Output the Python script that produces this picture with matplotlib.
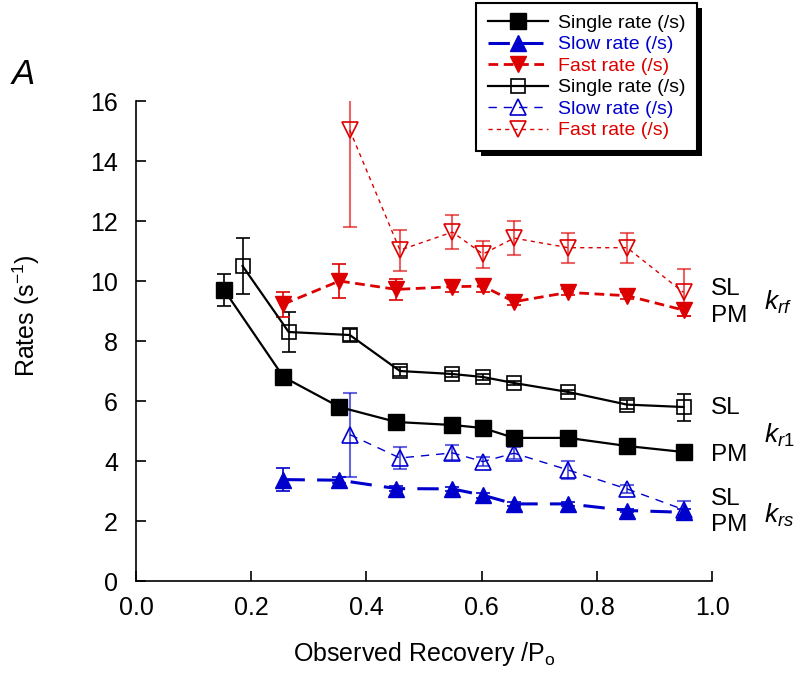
import matplotlib
matplotlib.use('Agg')
import matplotlib.pyplot as plt
from matplotlib.patches import Rectangle

plt.rcParams['font.family'] = ['Liberation Sans', 'DejaVu Sans']
plt.rcParams['mathtext.fontset'] = 'custom'
plt.rcParams['mathtext.rm'] = 'Liberation Sans'
plt.rcParams['mathtext.it'] = 'Liberation Sans:italic'

BLUE = '#0000cc'
RED = '#dd0000'

# PM (filled symbols)
pm_single_x = [0.153, 0.256, 0.353, 0.452, 0.549, 0.602, 0.656, 0.75, 0.852, 0.95]
pm_single_y = [9.7, 6.8, 5.8, 5.3, 5.2, 5.1, 4.77, 4.77, 4.5, 4.3]
pm_single_e = [0.52, 0.0, 0.0, 0.0, 0.0, 0.0, 0.0, 0.0, 0.0, 0.0]

pm_slow_x = [0.256, 0.353, 0.452, 0.549, 0.602, 0.656, 0.75, 0.852, 0.95]
pm_slow_y = [3.38, 3.36, 3.08, 3.07, 2.86, 2.57, 2.57, 2.35, 2.29]
pm_slow_e = [0.38, 0.1, 0.08, 0.08, 0.08, 0.06, 0.06, 0.06, 0.1]

pm_fast_x = [0.256, 0.353, 0.452, 0.549, 0.602, 0.656, 0.75, 0.852, 0.95]
pm_fast_y = [9.23, 10.0, 9.72, 9.81, 9.83, 9.31, 9.62, 9.51, 9.03]
pm_fast_e = [0.42, 0.56, 0.35, 0.18, 0.2, 0.12, 0.1, 0.12, 0.2]

# SL (open symbols)
sl_single_x = [0.185, 0.265, 0.371, 0.458, 0.549, 0.602, 0.656, 0.75, 0.852, 0.95]
sl_single_y = [10.5, 8.3, 8.2, 7.0, 6.9, 6.8, 6.6, 6.3, 5.88, 5.8]
sl_single_e = [0.93, 0.68, 0.2, 0.15, 0.1, 0.1, 0.08, 0.08, 0.15, 0.45]

sl_slow_x = [0.371, 0.458, 0.549, 0.602, 0.656, 0.75, 0.852, 0.95]
sl_slow_y = [4.88, 4.1, 4.27, 3.98, 4.26, 3.7, 3.07, 2.38]
sl_slow_e = [1.4, 0.37, 0.25, 0.16, 0.2, 0.3, 0.13, 0.3]

sl_fast_x = [0.371, 0.458, 0.549, 0.602, 0.656, 0.75, 0.852, 0.95]
sl_fast_y = [15.03, 11.03, 11.63, 10.9, 11.43, 11.11, 11.11, 9.62]
sl_fast_e = [3.22, 0.68, 0.57, 0.45, 0.57, 0.5, 0.5, 0.78]

legend_labels = ['Single rate (/s)', 'Slow rate (/s)', 'Fast rate (/s)'] * 2

fig = plt.figure(figsize=(7.95, 6.77), dpi=100)
ax = fig.add_axes([0.171, 0.1418, 0.725, 0.709])

# error bars first, lines and markers on top
ax.errorbar(sl_single_x, sl_single_y, yerr=sl_single_e, fmt='none', ecolor='black', elinewidth=1.2, capsize=5, capthick=1.2, zorder=2)
ax.errorbar(sl_slow_x, sl_slow_y, yerr=sl_slow_e, fmt='none', ecolor=BLUE, alpha=0.6, elinewidth=1.5, capsize=5, capthick=1.5, zorder=2)
ax.errorbar(sl_fast_x, sl_fast_y, yerr=sl_fast_e, fmt='none', ecolor=RED, alpha=0.6, elinewidth=1.5, capsize=5, capthick=1.5, zorder=2)
ax.errorbar(pm_single_x, pm_single_y, yerr=pm_single_e, fmt='none', ecolor='black', elinewidth=1.2, capsize=5, capthick=1.2, zorder=2)
ax.errorbar(pm_slow_x, pm_slow_y, yerr=pm_slow_e, fmt='none', ecolor=BLUE, elinewidth=1.2, capsize=5, capthick=1.2, zorder=2)
ax.errorbar(pm_fast_x, pm_fast_y, yerr=pm_fast_e, fmt='none', ecolor=RED, elinewidth=1.2, capsize=5, capthick=1.2, zorder=2)

h1, = ax.plot(pm_single_x, pm_single_y, color='black', lw=1.6, ls='-', marker='s', ms=11,
              mfc='black', mec='black', zorder=4)
h2, = ax.plot(pm_slow_x, pm_slow_y, color=BLUE, lw=2.2, ls=(0, (7, 4)), marker='^', ms=12,
              mfc=BLUE, mec=BLUE, zorder=4)
h3, = ax.plot(pm_fast_x, pm_fast_y, color=RED, lw=2.0, ls=(0, (3.5, 2)), marker='v', ms=12,
              mfc=RED, mec=RED, zorder=4)
h4, = ax.plot(sl_single_x, sl_single_y, color='black', lw=1.6, ls='-', marker='s', ms=10,
              mfc='none', mec='black', mew=1.2, zorder=3)
h5, = ax.plot(sl_slow_x, sl_slow_y, color=BLUE, lw=1.0, ls=(0, (6, 5)), marker='^', ms=12,
              mfc='none', mec=BLUE, mew=1.2, zorder=3)
h6, = ax.plot(sl_fast_x, sl_fast_y, color=RED, lw=1.0, ls=(0, (3, 3)), marker='v', ms=12,
              mfc='none', mec=RED, mew=1.2, zorder=3)

ax.set_xlim(0, 1.0)
ax.set_ylim(0, 16)
ax.set_xticks([0.0, 0.2, 0.4, 0.6, 0.8, 1.0])
ax.set_xticklabels(['0.0', '0.2', '0.4', '0.6', '0.8', '1.0'])
ax.set_yticks(range(0, 17, 2))
ax.spines['top'].set_visible(False)
ax.spines['right'].set_visible(False)
ax.spines['left'].set_linewidth(1.2)
ax.spines['bottom'].set_linewidth(1.2)
ax.tick_params(direction='in', length=7, width=1.2, labelsize=18)
ax.tick_params(axis='y', pad=13)
ax.tick_params(axis='x', pad=11)

ax.set_xlabel('Observed Recovery /P$_\\mathrm{o}$', fontsize=18, labelpad=14)
ax.set_ylabel('Rates (s$^{\\mathrm{-1}}$)', fontsize=18)
ax.yaxis.set_label_coords(-0.163, 0.554)

fig.text(0.015, 0.876, 'A', fontsize=25, style='italic')

# SL / PM labels at the right end
for y, t in [(9.72, 'SL'), (8.85, 'PM'), (5.78, 'SL'), (4.2, 'PM'), (2.74, 'SL'), (1.86, 'PM')]:
    ax.text(0.998, y, t, fontsize=17.5, ha='left', va='center', clip_on=False)
for y, t in [(9.3, '$k_{rf}$'), (4.85, '$k_{r1}$'), (2.2, '$k_{rs}$')]:
    ax.text(1.09, y, t, fontsize=19, ha='left', va='center', clip_on=False)

leg = fig.legend([h1, h2, h3, h4, h5, h6], legend_labels, loc='upper left',
                 bbox_to_anchor=(0.599, 0.996), borderaxespad=0, fontsize=14,
                 handlelength=3.1, handletextpad=0.5, labelspacing=0.2, borderpad=0.6,
                 frameon=True, fancybox=False, framealpha=1,
                 labelcolor=['black', BLUE, RED, 'black', BLUE, RED])
leg.get_frame().set_edgecolor('black')
leg.get_frame().set_linewidth(1.5)
leg.set_zorder(10)

# solid black drop shadow under the legend box
fig.canvas.draw()
bb = leg.get_frame().get_window_extent()
fig.add_artist(Rectangle((bb.x0 + 5, bb.y0 - 5), bb.width, bb.height, transform=None,
                         facecolor='black', edgecolor='none', zorder=9))

fig.savefig('out.png', dpi=100)
